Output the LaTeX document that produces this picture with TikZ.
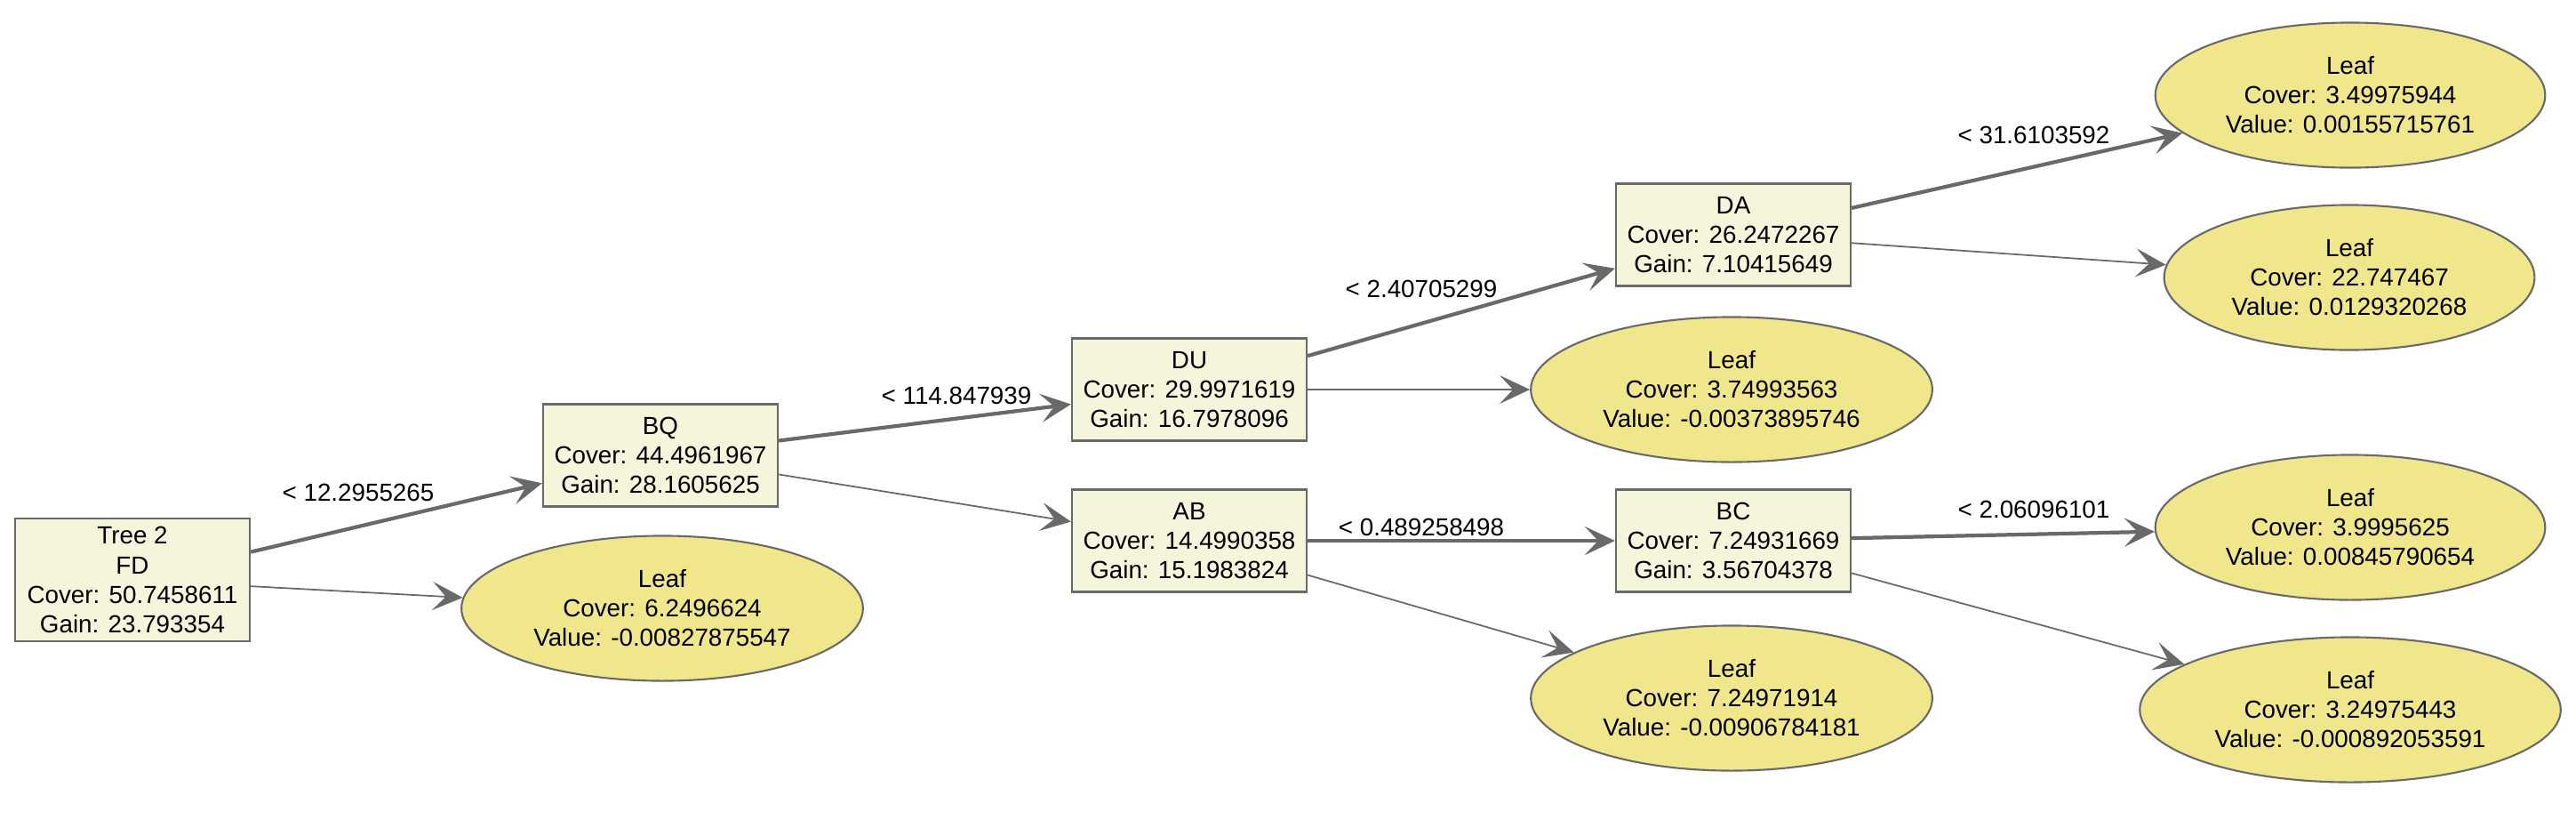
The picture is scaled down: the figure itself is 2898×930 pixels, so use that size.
\documentclass[tikz,border=0pt]{standalone}
\usepackage{fontspec}
\setmainfont{Liberation Sans}
\usepackage{xcolor}
\usepackage{tikz}
\usetikzlibrary{arrows.meta,shapes.geometric}
\definecolor{nodebeige}{RGB}{245,245,220}
\definecolor{leafkhaki}{RGB}{240,230,140}
\definecolor{edgegray}{RGB}{105,105,105}

\begin{document}
\begin{tikzpicture}[
    x=0.01cm, y=-0.01cm,
    >={Stealth[length=0.34cm, width=0.32cm, inset=0.15cm]},
    every node/.style={font=\fontsize{7.9}{9.4}\selectfont, align=center},
    split/.style={draw=edgegray, fill=nodebeige, line width=0.6pt, minimum width=2.64cm, minimum height=1.15cm, inner ysep=0.1cm},
    leaf/.style={ellipse, draw=edgegray, fill=leafkhaki, line width=0.6pt, minimum height=1.63cm, inner xsep=0.15cm},
    yes/.style={->, draw=edgegray, line width=1.2pt},
    no/.style={->, draw=edgegray, line width=0.5pt},
    cond/.style={inner sep=1pt}
]
\useasboundingbox (0,0) rectangle (2898,930);

\node[split] (tree) at (149,652) {Tree 2\\FD\\Cover: 50.7458611\\Gain: 23.793354};
\node[leaf] (leafa) at (745,684) {Leaf\\Cover: 6.2496624\\Value: -0.00827875547};
\node[split] (bq) at (743,512) {BQ\\Cover: 44.4961967\\Gain: 28.1605625};
\node[split] (du) at (1338,438) {DU\\Cover: 29.9971619\\Gain: 16.7978096};
\node[split] (ab) at (1338,608) {AB\\Cover: 14.4990358\\Gain: 15.1983824};
\node[split] (da) at (1950,264) {DA\\Cover: 26.2472267\\Gain: 7.10415649};
\node[leaf] (leafb) at (1948,438) {Leaf\\Cover: 3.74993563\\Value: -0.00373895746};
\node[split] (bc) at (1950,608) {BC\\Cover: 7.24931669\\Gain: 3.56704378};
\node[leaf] (leafc) at (1948,785) {Leaf\\Cover: 7.24971914\\Value: -0.00906784181};
\node[leaf] (leafd) at (2644,107) {Leaf\\Cover: 3.49975944\\Value: 0.00155715761};
\node[leaf] (leafe) at (2643,312) {Leaf\\Cover: 22.747467\\Value: 0.0129320268};
\node[leaf] (leaff) at (2644,593) {Leaf\\Cover: 3.9995625\\Value: 0.00845790654};
\node[leaf] (leafg) at (2644,798) {Leaf\\Cover: 3.24975443\\Value: -0.000892053591};

\node[cond] (c1) at (403,554) {< 12.2955265};
\node[cond] (c2) at (1076,445) {< 114.847939};
\node[cond] (c3) at (1599,325) {< 2.40705299};
\node[cond] (c4) at (1599,593) {< 0.489258498};
\node[cond] (c5) at (2288,152) {< 31.6103592};
\node[cond] (c6) at (2288,573) {< 2.06096101};

\draw[yes] (tree) -- (bq);
\draw[no] (tree) -- (leafa);
\draw[yes] (bq) -- (du);
\draw[no] (bq) -- (ab);
\draw[yes] (du) -- (da);
\draw[no] (du) -- (leafb);
\draw[yes] (ab) -- (bc);
\draw[no] (ab) -- (leafc);
\draw[yes] (da) -- (leafd);
\draw[no] (da) -- (leafe);
\draw[yes] (bc) -- (leaff);
\draw[no] (bc) -- (leafg);
\end{tikzpicture}
\end{document}
